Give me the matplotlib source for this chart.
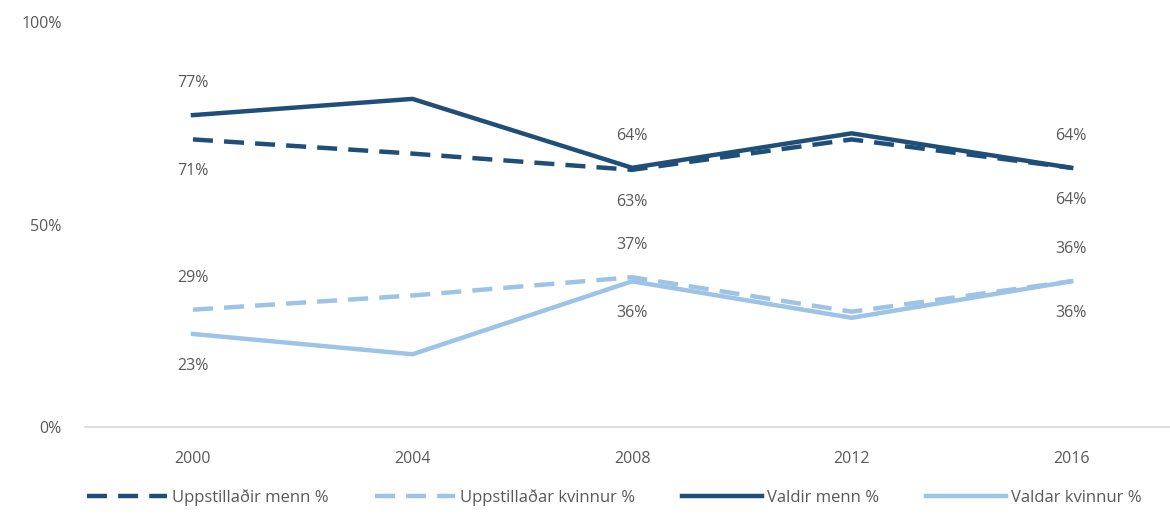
import matplotlib
matplotlib.use("Agg")
import matplotlib.pyplot as plt

# gögn lesin af myndinni
years = ["2000", "2004", "2008", "2012", "2016"]
uppst_menn = [71, 67.5, 63.5, 71, 64]
uppst_kvinnur = [29, 32.5, 37, 28.5, 36]
valdir_menn = [77, 81, 64, 72.5, 64]
valdar_kvinnur = [23, 18, 36, 27, 36]

# merkingar eingöngu við 2000, 2008 og 2016
label_idx = [0, 2, 4]
lbl_valdir_menn = ["77%", "64%", "64%"]
lbl_uppst_menn = ["71%", "63%", "64%"]
lbl_uppst_kvinnur = ["29%", "37%", "36%"]
lbl_valdar_kvinnur = ["23%", "36%", "36%"]

dark = "#1F4E79"
light = "#9DC3E6"
txt = "#595959"

plt.rcParams['font.family'] = ['Open Sans', 'DejaVu Sans']

fig = plt.figure(figsize=(11.7, 5.21), dpi=100)
ax = fig.add_axes([0.073, 0.18, 0.927, 0.778])

x = list(range(len(years)))
ax.plot(x, uppst_menn, color=dark, lw=3.2, dashes=(4.5, 2.5), label="Uppstillaðir menn %")
ax.plot(x, uppst_kvinnur, color=light, lw=3.2, dashes=(4.5, 2.5), label="Uppstillaðar kvinnur %")
ax.plot(x, valdir_menn, color=dark, lw=3.2, label="Valdir menn %")
ax.plot(x, valdar_kvinnur, color=light, lw=3.2, label="Valdar kvinnur %")

def put_labels(vals, labels, dy):
    for i, t in zip(label_idx, labels):
        ax.annotate(t, (x[i], vals[i]), xytext=(0, dy), textcoords="offset points",
                    ha="center", va="center", fontsize=11.5, color=txt)

put_labels(valdir_menn, lbl_valdir_menn, 23)
put_labels(uppst_menn, lbl_uppst_menn, -23)
put_labels(uppst_kvinnur, lbl_uppst_kvinnur, 23)
put_labels(valdar_kvinnur, lbl_valdar_kvinnur, -23)

ax.set_ylim(0, 100)
ax.set_xlim(-0.49, 4.45)
ax.set_yticks([0, 50, 100])
ax.set_yticklabels(["0%", "50%", "100%"])
ax.set_xticks(x)
ax.set_xticklabels(years)
ax.tick_params(axis="both", length=0, labelsize=11.5, labelcolor=txt)
ax.tick_params(axis="x", pad=17)
ax.tick_params(axis="y", pad=17)

for s in ["top", "right", "left"]:
    ax.spines[s].set_visible(False)
ax.spines["bottom"].set_color("#D9D9D9")
ax.spines["bottom"].set_linewidth(1.2)

leg = fig.legend(loc="lower center", bbox_to_anchor=(0.525, 0.0), ncol=4, frameon=False,
                 fontsize=12, handlelength=4.8, columnspacing=2.8, handletextpad=0.3)
for t in leg.get_texts():
    t.set_color(txt)

fig.savefig("out.png", dpi=100)
